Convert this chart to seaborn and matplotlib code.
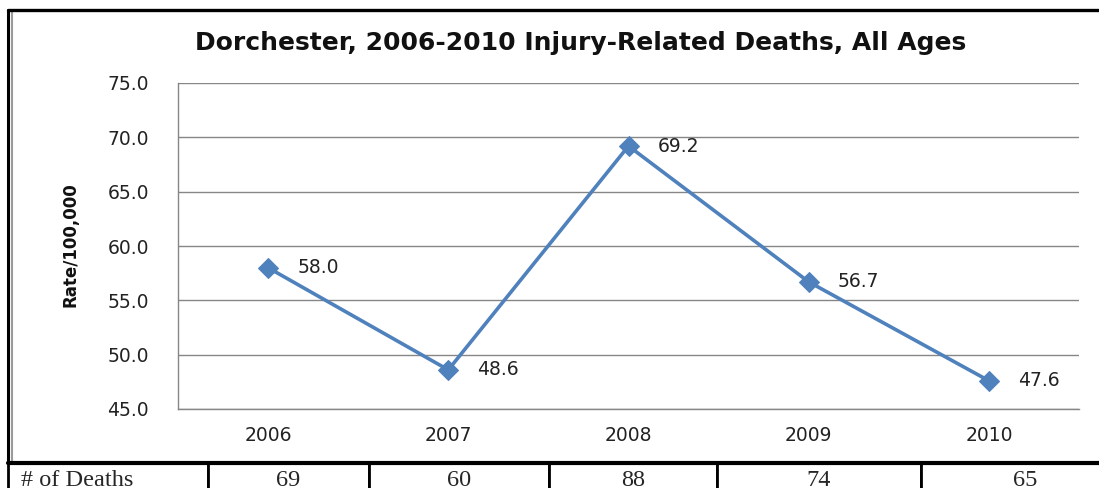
import numpy as np
import pandas as pd
import matplotlib
matplotlib.use("Agg")
import matplotlib.pyplot as plt
from matplotlib.lines import Line2D
import seaborn as sns

years = ["2006", "2007", "2008", "2009", "2010"]
rates = [58.0, 48.6, 69.2, 56.7, 47.6]
deaths = [69, 60, 88, 74, 65]
row_label = "# of Deaths"
title = "Dorchester, 2006-2010 Injury-Related Deaths, All Ages"

sns.set_style("white")
plt.rcParams["font.family"] = ["DejaVu Sans"]

W, H = 1099, 488
fig = plt.figure(figsize=(W / 100, H / 100), dpi=100)

def box(x0, y0, x1, y1):
    # pixel box (top-left origin) -> figure fraction rect
    return [x0 / W, 1 - y1 / H, (x1 - x0) / W, (y1 - y0) / H]

ax = fig.add_axes(box(178, 83, 1079, 409))
df = pd.DataFrame({"pos": np.arange(len(years)), "rate": rates})
blue = "#4F81BD"
sns.lineplot(data=df, x="pos", y="rate", ax=ax, color=blue, lw=2.6,
             marker="D", markersize=10, markeredgecolor=blue)

for x, y in zip(df["pos"], df["rate"]):
    ax.annotate(f"{y:.1f}", (x, y), xytext=(21, 0), textcoords="offset points",
                ha="left", va="center", fontsize=13.5, color="#222222")

grid = "#868686"
ax.set_xlim(-0.5, len(years) - 0.5)
ax.set_ylim(45, 75)
ax.set_yticks(np.arange(45, 75.1, 5))
ax.set_yticklabels([f"{v:.1f}" for v in np.arange(45, 75.1, 5)], fontsize=13.5, color="#222222")
ax.set_xticks(np.arange(len(years) + 1) - 0.5)
ax.set_xticklabels([])
ax.set_xticks(np.arange(len(years)), minor=True)
ax.set_xticklabels(years, minor=True, fontsize=13.5, color="#222222")
ax.tick_params(axis="x", which="major", direction="out", length=6, color=grid, width=1)
ax.tick_params(axis="x", which="minor", length=0, pad=12)
ax.tick_params(axis="y", direction="out", length=8, color=grid, width=1, pad=13)
ax.yaxis.grid(True, color=grid, lw=1)
ax.set_axisbelow(True)
for s in ["top", "right"]:
    ax.spines[s].set_visible(False)
for s in ["left", "bottom"]:
    ax.spines[s].set_color(grid)
    ax.spines[s].set_linewidth(1)
ax.set_xlabel("")
ax.set_ylabel("")

fig.text(581 / W, 1 - 43 / H, title, ha="center", va="center",
         fontsize=18, fontweight="bold", color="#111111")
fig.text(71 / W, 1 - 245 / H, "Rate/100,000", rotation=90, ha="center", va="center",
         fontsize=12, fontweight="bold",
         family=["Liberation Sans Narrow", "DejaVu Sans"], color="#111111")

# chart frame
fig.add_artist(Line2D([8 / W, 8 / W], [1 - 463 / H, 1 - 10 / H], color="black", lw=2.2))
fig.add_artist(Line2D([11.5 / W, 11.5 / W], [1 - 463 / H, 1 - 11 / H], color="#9a9a9a", lw=1.5))
fig.add_artist(Line2D([8 / W, 1.0], [1 - 10 / H, 1 - 10 / H], color="black", lw=2.4))

# table of deaths
tax = fig.add_axes(box(8, 463, 1130, 498))
tax.axis("off")
edges = [8, 208, 369, 549, 717, 921, 1130]
widths = [(b - a) / (edges[-1] - edges[0]) for a, b in zip(edges[:-1], edges[1:])]
tbl = tax.table(cellText=[[row_label] + [str(d) for d in deaths]],
                colWidths=widths, bbox=[0, 0, 1, 1], cellLoc="center")
tbl.auto_set_font_size(False)
for (r, c), cell in tbl.get_celld().items():
    cell.set_edgecolor("black")
    cell.set_linewidth(2)
    cell.get_text().set_fontsize(17.5)
    cell.get_text().set_family(["Liberation Serif", "DejaVu Serif"])
    cell.get_text().set_va("center")
    if c == 0:
        cell.get_text().set_ha("left")
        cell.PAD = 0.065
fig.add_artist(Line2D([8 / W, 1.0], [1 - 463 / H, 1 - 463 / H], color="black", lw=3))

fig.savefig("out.png", dpi=100, facecolor="white")
